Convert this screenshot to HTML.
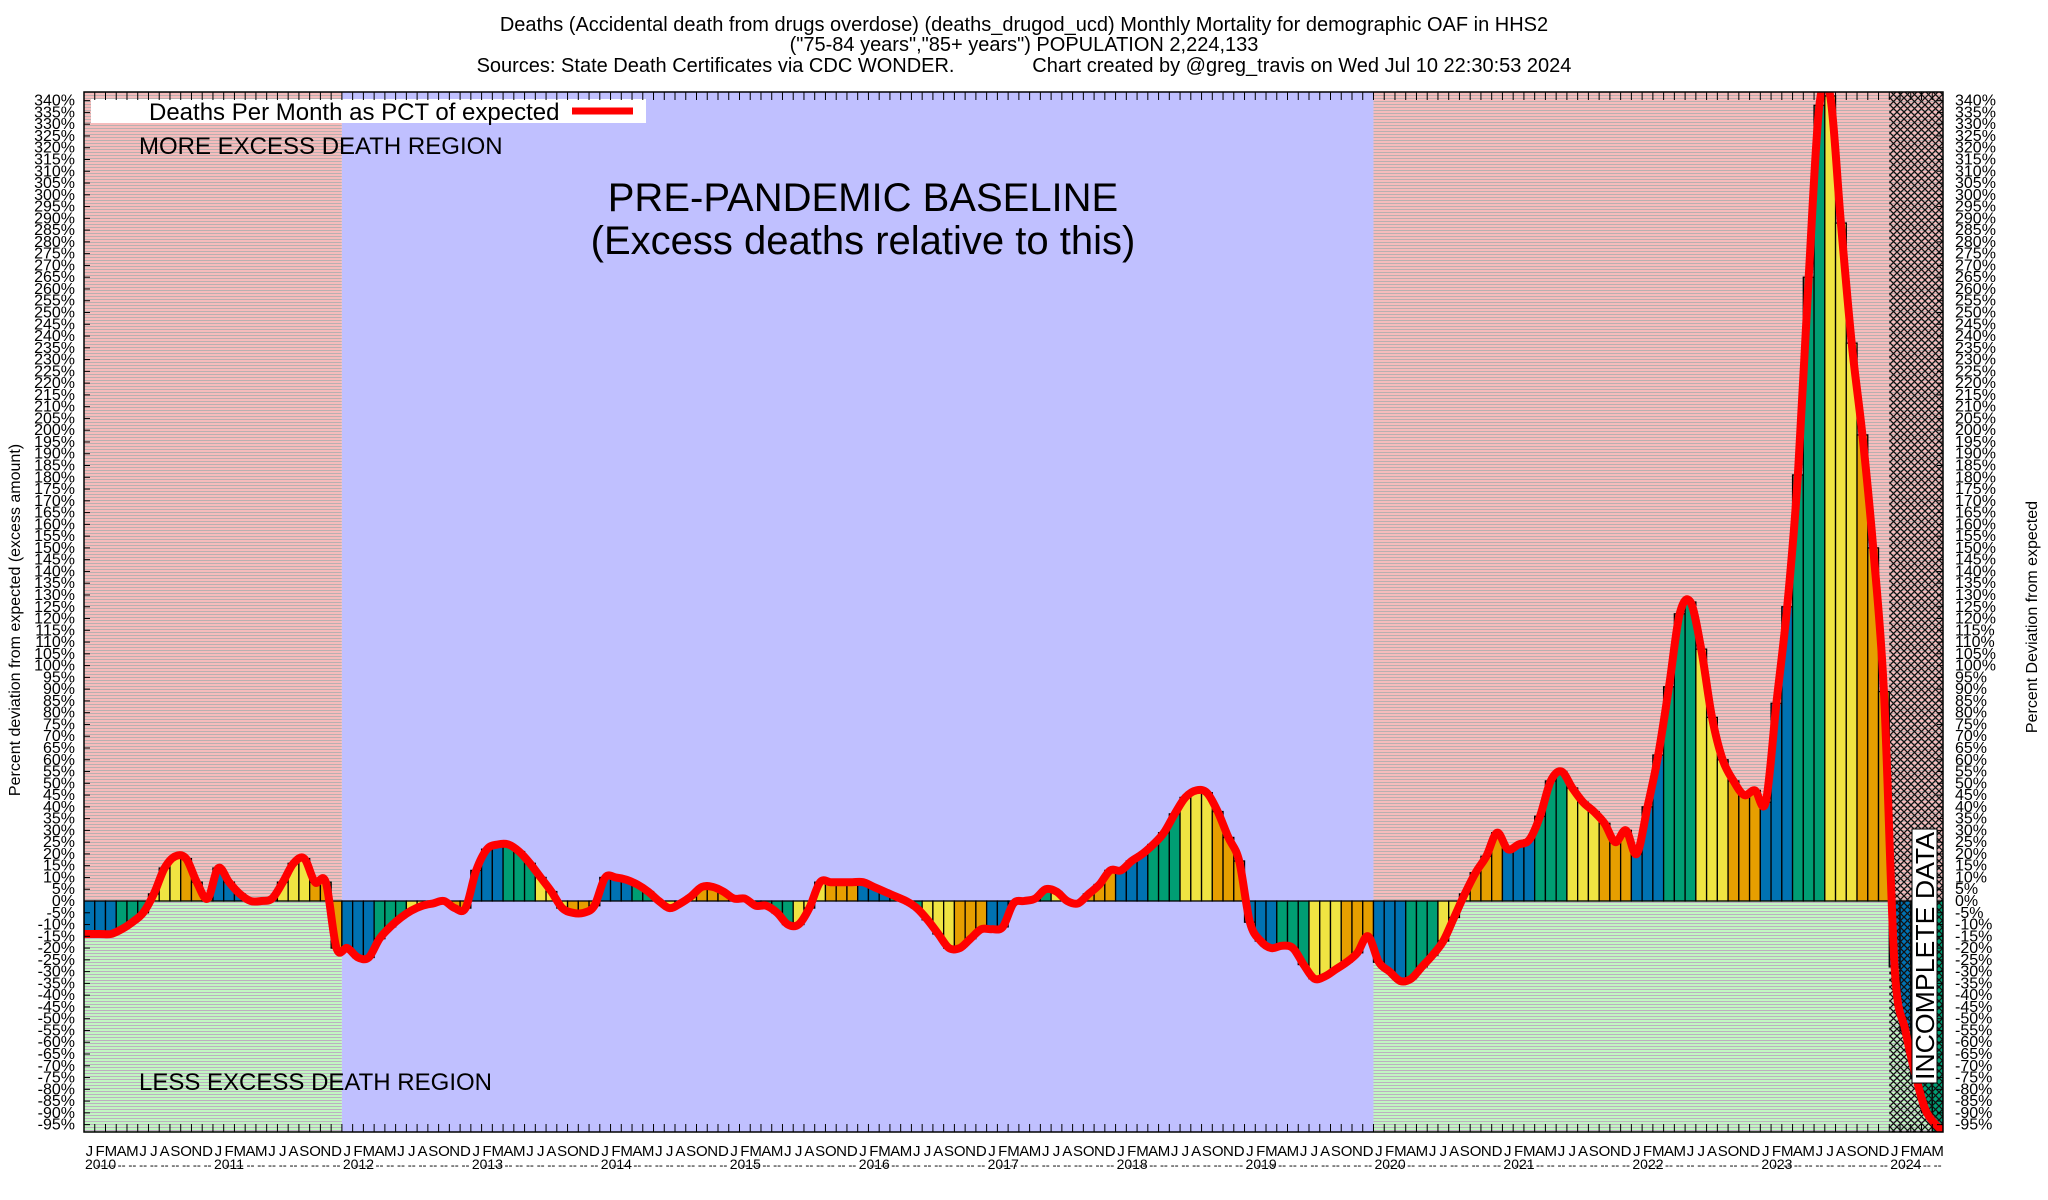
<!DOCTYPE html>
<html><head><meta charset="utf-8"><style>
html,body{margin:0;padding:0;background:#fff;}
svg{display:block;font-family:"Liberation Sans",sans-serif;}
</style></head><body>
<svg id="chart" width="2048" height="1200" viewBox="0 0 2048 1200" xmlns="http://www.w3.org/2000/svg">
<defs>
<pattern id="redStripe" width="4" height="3" patternUnits="userSpaceOnUse"><rect width="4" height="3" fill="#f6bcbc"/><rect y="2" width="4" height="1" fill="#b9b0b0"/></pattern>
<pattern id="greenStripe" width="4" height="3" patternUnits="userSpaceOnUse"><rect width="4" height="3" fill="#c2f6c2"/><rect y="2" width="4" height="1" fill="#bcb0c0"/></pattern>
<pattern id="xhatch" width="7" height="7" patternUnits="userSpaceOnUse"><path d="M0,0 L7,7 M7,0 L0,7" stroke="#111" stroke-width="1.3" fill="none"/></pattern>
<clipPath id="plotClip"><rect x="84" y="92" width="1859" height="1040"/></clipPath>
</defs>
<g id="bg"></g>
<g id="bars"></g>
<g id="overlay"></g>
<g id="axes"></g>
<g id="texts">
<text x="1024" y="31" font-size="20" text-anchor="middle">Deaths (Accidental death from drugs overdose) (deaths_drugod_ucd) Monthly Mortality for demographic OAF in HHS2</text>
<text x="1024" y="51" font-size="20" text-anchor="middle">("75-84 years","85+ years") POPULATION 2,224,133</text>
<text x="1024" y="72" font-size="20" text-anchor="middle" xml:space="preserve">Sources: State Death Certificates via CDC WONDER.              Chart created by @greg_travis on Wed Jul 10 22:30:53 2024</text>
<text transform="translate(20,620) rotate(-90)" font-size="16" text-anchor="middle">Percent deviation from expected (excess amount)</text>
<text transform="translate(2037,617) rotate(-90)" font-size="16" text-anchor="middle">Percent Deviation from expected</text>
</g>
</svg>
<script>
const values2010 = [-14,-14,-14,-12,-9,-5,3,14,19,18,8,1];
const values2011 = [14,8,3,0,0,1,8,16,18,8,8,-20];
const values2012 = [-20,-24,-24,-16,-11,-7,-4,-2,-1,0,-3,-3];
const values2013 = [13,22,24,24,21,16,10,4,-3,-5,-5,-2];
const values2014 = [10,10,9,7,4,0,-3,-1,2,6,6,4];
const values2015 = [1,1,-2,-2,-5,-10,-10,-3,8,8,8,8];
const values2016 = [8,6,4,2,0,-3,-8,-14,-20,-20,-16,-12];
const values2017 = [-12,-11,-1,0,1,5,4,0,-1,3,7,13];
const values2018 = [13,17,20,24,29,37,44,47,46,38,27,17];
const values2019 = [-9,-17,-20,-19,-20,-27,-33,-32,-29,-26,-22,-15];
const values2020 = [-26,-30,-34,-33,-28,-23,-17,-7,3,12,19,29];
const values2021 = [22,24,26,36,51,55,48,42,38,33,25,30];
const values2022 = [20,40,62,91,122,127,107,78,60,51,45,47];
const values2023 = [42,84,125,181,265,338,342,288,237,198,150,89];
const values2024 = [-28,-55,-75,-90,-98];
const years = [2010,2011,2012,2013,2014,2015,2016,2017,2018,2019,2020,2021,2022,2023,2024];
const monthLetters = ["J","F","M","A","M","J","J","A","S","O","N","D"];
const yTicks = [];
for (let v = -95; v <= 340; v += 5) yTicks.push(v);
const baselineStartYear = 2012, baselineEndYear = 2020, incompleteStartYear = 2024;

const series = [].concat(values2010,values2011,values2012,values2013,values2014,values2015,values2016,values2017,values2018,values2019,values2020,values2021,values2022,values2023,values2024);

const PL=84, PR=1943, PT=92, PB=1132, NM=173;
const MW=(PR-PL)/NM;
const Y0=901, PXPCT=2.354;
function xOf(i){return PL+i*MW;}
function yOf(v){return Y0 - v*PXPCT;}
const NS="http://www.w3.org/2000/svg";
function mk(tag, attrs, parent){const e=document.createElementNS(NS,tag);for(const k in attrs)e.setAttribute(k,attrs[k]);parent.appendChild(e);return e;}
const bg=document.getElementById('bg'), barsG=document.getElementById('bars'), ov=document.getElementById('overlay'), ax=document.getElementById('axes');
const idx=y=>(y-2010)*12;

let r;
r=mk('rect',{x:PL,y:PT,width:xOf(idx(baselineStartYear))-PL,height:Y0-PT,fill:'url(#redStripe)'},bg);


r=mk('rect',{x:PL,y:Y0,width:xOf(idx(baselineStartYear))-PL,height:PB-Y0,fill:'url(#greenStripe)'},bg);


r=mk('rect',{x:xOf(idx(baselineStartYear)),y:PT,width:xOf(idx(baselineEndYear))-xOf(idx(baselineStartYear)),height:PB-PT,fill:'#c0c0ff'},bg);


r=mk('rect',{x:xOf(idx(baselineEndYear)),y:PT,width:PR-xOf(idx(baselineEndYear)),height:Y0-PT,fill:'url(#redStripe)'},bg);


r=mk('rect',{x:xOf(idx(baselineEndYear)),y:Y0,width:PR-xOf(idx(baselineEndYear)),height:PB-Y0,fill:'url(#greenStripe)'},bg);



const colors=['#0072b2','#009e73','#f0e442','#e69f00'];
series.forEach((v,i)=>{
  const y1=yOf(Math.max(v,0)), y2=yOf(Math.min(v,0));
  const b=mk('rect',{x:xOf(i),y:y1,width:MW,height:Math.max(0,y2-y1),fill:colors[Math.floor((i%12)/3)],stroke:'#000','stroke-width':1.3,'clip-path':'url(#plotClip)'},barsG);
  
  
});

r=mk('rect',{x:xOf(idx(incompleteStartYear)),y:PT,width:PR-xOf(idx(incompleteStartYear)),height:PB-PT,fill:'url(#xhatch)'},ov);



const pts=series.map((v,i)=>[xOf(i)+MW/2,yOf(v)]);
pts[0][0]=PL; pts[pts.length-1][0]=PR;
let d='M'+pts[0][0]+','+pts[0][1];
for(let i=0;i<pts.length-1;i++){
  const p0=pts[Math.max(0,i-1)],p1=pts[i],p2=pts[i+1],p3=pts[Math.min(pts.length-1,i+2)];
  const c1=[p1[0]+(p2[0]-p0[0])/6,p1[1]+(p2[1]-p0[1])/6];
  const c2=[p2[0]-(p3[0]-p1[0])/6,p2[1]-(p3[1]-p1[1])/6];
  d+=` C${c1[0].toFixed(1)},${c1[1].toFixed(1)} ${c2[0].toFixed(1)},${c2[1].toFixed(1)} ${p2[0].toFixed(1)},${p2[1].toFixed(1)}`;
}
const line=mk('path',{d:d,fill:'none',stroke:'#ff0000','stroke-width':8,'stroke-linejoin':'round','clip-path':'url(#plotClip)'},ov);



const fr=mk('rect',{x:PL,y:PT,width:PR-PL,height:PB-PT,fill:'none',stroke:'#000','stroke-width':1.5},ax);



yTicks.forEach(v=>{
  const y=yOf(v);
  mk('line',{x1:PL,x2:PL+6,y1:y,y2:y,stroke:'#000','stroke-width':1},ax);
  mk('line',{x1:PR-6,x2:PR,y1:y,y2:y,stroke:'#000','stroke-width':1},ax);
  const t=mk('text',{x:75,y:y+5,'font-size':16,'text-anchor':'end'},ax);
  t.textContent=v+'%';
  
  
  const t2=mk('text',{x:1955,y:y+5,'font-size':16},ax);
  t2.textContent=v+'%';
  
  
});

for(let i=0;i<NM;i++){
  const x=xOf(i);
  mk('line',{x1:x,x2:x,y1:PB,y2:PB-8,stroke:'#000','stroke-width':1},ax);
  mk('line',{x1:x,x2:x,y1:PT,y2:PT+8,stroke:'#000','stroke-width':1},ax);
  const m=mk('text',{x:x+MW/2,y:1156,'font-size':15,'text-anchor':'middle'},ax);
  m.textContent=monthLetters[i%12];
  
  
  if(i%12!==0){
    const dd=mk('text',{x:x+MW/2,y:1169,'font-size':12,'text-anchor':'middle'},ax);
    dd.textContent='--';
    
    
  }
}
years.forEach(yr=>{
  const t=mk('text',{x:xOf(idx(yr))+1,y:1169,'font-size':14},ax);
  t.textContent=yr;
  
  
});

const legBox=mk('rect',{x:91,y:99,width:555,height:24,fill:'#fff'},ov);


let tx=mk('text',{x:149,y:120,'font-size':24},ov);
tx.textContent='Deaths Per Month as PCT of expected';


const legLine=mk('line',{x1:572,x2:633,y1:111,y2:111,stroke:'#ff0000','stroke-width':7},ov);


tx=mk('text',{x:139,y:154,'font-size':24},ov);
tx.textContent='MORE EXCESS DEATH REGION';


tx=mk('text',{x:139,y:1090,'font-size':24},ov);
tx.textContent='LESS EXCESS DEATH REGION';


tx=mk('text',{x:863,y:211,'font-size':40,'text-anchor':'middle'},ov);
tx.textContent='PRE-PANDEMIC BASELINE';


tx=mk('text',{x:863,y:254,'font-size':40,'text-anchor':'middle'},ov);
tx.textContent='(Excess deaths relative to this)';


const incBox=mk('rect',{x:1912,y:829,width:25,height:254,fill:'#fff',stroke:'#000','stroke-width':1},ov);


tx=mk('text',{'font-size':26,'text-anchor':'middle',transform:'translate(1934,956) rotate(-90)',textLength:248,lengthAdjust:'spacingAndGlyphs'},ov);
tx.textContent='INCOMPLETE DATA';


</script>
</body></html>
